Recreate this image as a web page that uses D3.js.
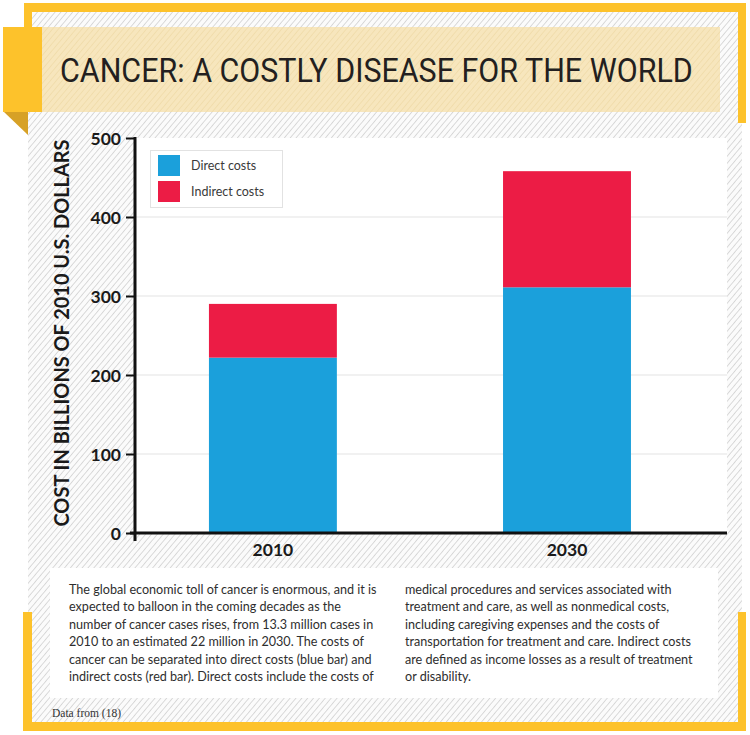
<!DOCTYPE html>
<html>
<head>
<meta charset="utf-8">
<script src="https://cdn.jsdelivr.net/npm/d3@7"></script>
<style>
html,body{margin:0;padding:0;background:#fff;}
svg{display:block;}
</style>
</head>
<body>
<svg id="chart" width="750" height="735"></svg>
<script>
// ---- data ----
const years = ["2010", "2030"];
const directCosts = [222, 311];
const indirectCosts = [68, 147];
const seriesNames = ["Direct costs", "Indirect costs"];
const seriesColors = ["#1ba0db", "#ec1c45"];
const yTicks = [0, 100, 200, 300, 400, 500];
const titleText = "CANCER: A COSTLY DISEASE FOR THE WORLD";
const yTitle = "COST IN BILLIONS OF 2010 U.S. DOLLARS";
const leftLines = [
  "The global economic toll of cancer is enormous, and it is",
  "expected to balloon in the coming decades as the",
  "number of cancer cases rises, from 13.3 million cases in",
  "2010 to an estimated 22 million in 2030. The costs of",
  "cancer can be separated into direct costs (blue bar) and",
  "indirect costs (red bar). Direct costs include the costs of"
];
const rightLines = [
  "medical procedures and services associated with",
  "treatment and care, as well as nonmedical costs,",
  "including caregiving expenses and the costs of",
  "transportation for treatment and care. Indirect costs",
  "are defined as income losses as a result of treatment",
  "or disability."
];
const sourceText = "Data from (18)";

const svg = d3.select("#chart");
const YEL = "#fdc22b", YEL_DARK = "#d7a126";

const defs = svg.append("defs");
const p1 = defs.append("pattern").attr("id","hatch").attr("width",4.5).attr("height",4.5)
  .attr("patternUnits","userSpaceOnUse").attr("patternTransform","rotate(40)");
p1.append("rect").attr("width",4.5).attr("height",4.5).attr("fill","#fbfbfb");
p1.append("line").attr("x1",0).attr("y1",0).attr("x2",0).attr("y2",4.5).attr("stroke","#d2d2d2").attr("stroke-width",1.6);
const p2 = defs.append("pattern").attr("id","hatch2").attr("width",4.5).attr("height",4.5)
  .attr("patternUnits","userSpaceOnUse").attr("patternTransform","rotate(40)");
p2.append("rect").attr("width",4.5).attr("height",4.5).attr("fill","#f7e6bd");
p2.append("line").attr("x1",0).attr("y1",0).attr("x2",0).attr("y2",4.5).attr("stroke","#efd9a6").attr("stroke-width",1.4);

// hatched background
svg.append("rect").attr("x",28).attr("y",12).attr("width",714).attr("height",712).attr("fill","url(#hatch)");

// yellow frame pieces
svg.append("rect").attr("x",24).attr("y",3).attr("width",722).attr("height",9).attr("fill",YEL);
svg.append("rect").attr("x",24).attr("y",3).attr("width",8).attr("height",30).attr("fill",YEL);
svg.append("rect").attr("x",738).attr("y",3).attr("width",8).attr("height",120).attr("fill",YEL);
svg.append("rect").attr("x",23).attr("y",722).attr("width",723).attr("height",9).attr("fill",YEL);
svg.append("rect").attr("x",23).attr("y",612).attr("width",9).attr("height",119).attr("fill",YEL);
svg.append("rect").attr("x",738).attr("y",612).attr("width",8).attr("height",119).attr("fill",YEL);

// title band
svg.append("rect").attr("x",40).attr("y",27).attr("width",680).attr("height",85).attr("fill","url(#hatch2)");
// ribbon
svg.append("path").attr("d","M4,112 L28,112 L28,135 Z").attr("fill",YEL_DARK);
svg.append("rect").attr("x",3).attr("y",27).attr("width",39).attr("height",85).attr("fill",YEL);

const title = svg.append("text").attr("x",0).attr("y",0)
  .attr("font-family","Roboto, sans-serif").attr("font-size",33).attr("font-weight",400)
  .attr("fill","#231f20").text(titleText);
const tw = title.node().getComputedTextLength();
title.attr("transform",`translate(60,82) scale(${633/tw},1)`);

// ---- chart ----
const x0 = 135, x1 = 727, yTop = 138, yBot = 533;
const y = d3.scaleLinear().domain([0,500]).range([yBot, yTop]);
const x = d3.scaleBand().domain(years).range([x0, x1]).paddingInner(0.565).paddingOuter(0.289).align(0.435);

svg.append("rect").attr("x",x0).attr("y",yTop).attr("width",x1-x0).attr("height",yBot-yTop).attr("fill","#fff");

// gridlines
svg.append("g").selectAll("line").data(yTicks.filter(d=>d>0 && d<500)).join("line")
  .attr("x1",x0).attr("x2",x1).attr("y1",d=>y(d)).attr("y2",d=>y(d))
  .attr("stroke","#e4e4e4").attr("stroke-width",1.2);

// stacked bars
const rows = years.map((yr,i)=>({year:yr, direct:directCosts[i], indirect:indirectCosts[i]}));
const stack = d3.stack().keys(["direct","indirect"])(rows);
svg.append("g").selectAll("g").data(stack).join("g")
  .attr("fill",(d,i)=>seriesColors[i])
  .selectAll("rect").data(d=>d).join("rect")
  .attr("x",d=>x(d.data.year)).attr("width",x.bandwidth())
  .attr("y",d=>y(d[1])).attr("height",d=>y(d[0])-y(d[1]));

// y axis
const yAxis = svg.append("g").attr("transform",`translate(${x0},0)`)
  .call(d3.axisLeft(y).tickValues(yTicks).tickSize(9).tickPadding(5).tickSizeOuter(0));
yAxis.select(".domain").remove();
yAxis.selectAll(".tick line").attr("stroke","#111").attr("stroke-width",2);
yAxis.selectAll("text").attr("font-family","Lato, sans-serif").attr("font-weight",700)
  .attr("font-size",17.5).attr("fill","#1a1a1a").attr("dy","0.35em");
svg.append("line").attr("x1",x0).attr("x2",x0).attr("y1",yTop-1).attr("y2",yBot+8)
  .attr("stroke","#111").attr("stroke-width",3);

// x axis
const xAxis = svg.append("g").attr("transform",`translate(0,${yBot})`)
  .call(d3.axisBottom(x).tickSize(0).tickPadding(11));
xAxis.select(".domain").remove();
xAxis.selectAll("text").attr("font-family","Lato, sans-serif").attr("font-weight",700)
  .attr("font-size",17.5).attr("fill","#1a1a1a");
svg.append("line").attr("x1",x0-5).attr("x2",x1).attr("y1",yBot).attr("y2",yBot)
  .attr("stroke","#111").attr("stroke-width",3);

// y title
svg.append("text").attr("transform","translate(69,333) rotate(-90)")
  .attr("text-anchor","middle").attr("font-family","Lato, sans-serif").attr("font-weight",700)
  .attr("font-size",20).attr("fill","#1a1a1a").attr("textLength",387).attr("lengthAdjust","spacingAndGlyphs")
  .text(yTitle);

// legend
const lg = svg.append("g");
lg.append("rect").attr("x",150.5).attr("y",150.5).attr("width",132).attr("height",57)
  .attr("fill","#fff").attr("stroke","#e2e2e2");
seriesNames.forEach((n,i)=>{
  lg.append("rect").attr("x",158).attr("y",155+i*26).attr("width",22).attr("height",21).attr("fill",seriesColors[i]);
  lg.append("text").attr("x",191).attr("y",166+i*26).attr("dy","0.35em")
    .attr("font-family","Lato, sans-serif").attr("font-size",12.5).attr("fill","#3a3a3a").text(n);
});

// description box
svg.append("rect").attr("x",50).attr("y",568).attr("width",668).attr("height",130).attr("fill","#fff");
const tf = "Lato, sans-serif";
leftLines.forEach((t,i)=>{
  svg.append("text").attr("x",69).attr("y",594+i*17.4).attr("font-family",tf).attr("font-size",12.6)
    .attr("fill","#2e2e2e").text(t);
});
rightLines.forEach((t,i)=>{
  svg.append("text").attr("x",405).attr("y",594+i*17.4).attr("font-family",tf).attr("font-size",12.6)
    .attr("fill","#2e2e2e").text(t);
});
svg.append("text").attr("x",52).attr("y",717).attr("font-family","'Liberation Serif', serif")
  .attr("font-size",11.5).attr("fill","#333").text(sourceText);
</script>
</body>
</html>
